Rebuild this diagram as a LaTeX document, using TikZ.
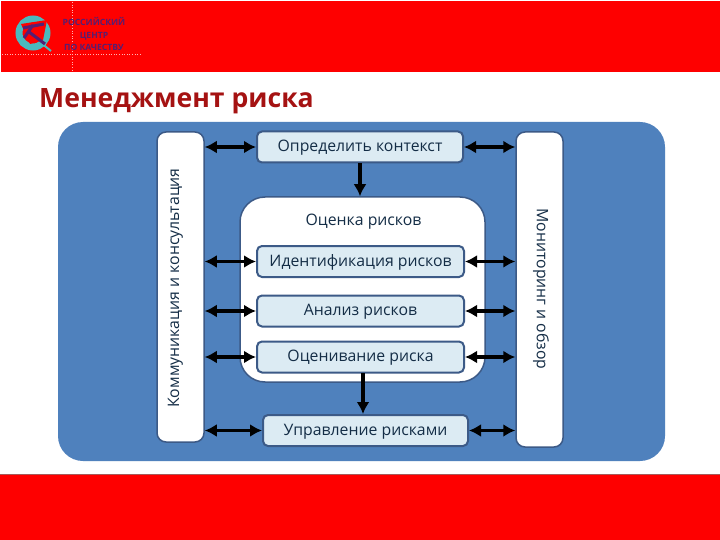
\documentclass[tikz,border=0pt]{standalone}
\usepackage{fontspec}
\setmainfont{Open Sans}
\usetikzlibrary{arrows.meta}
\definecolor{bandred}{RGB}{254,0,0}
\definecolor{panelblue}{RGB}{79,129,189}
\definecolor{boxblue}{RGB}{220,235,243}
\definecolor{boxedge}{RGB}{60,90,135}
\definecolor{titlered}{RGB}{165,18,18}
\definecolor{logoteal}{RGB}{75,185,190}
\definecolor{logotext}{RGB}{85,30,115}
\definecolor{textnavy}{RGB}{20,45,70}
\tikzset{
  stepbox/.style={draw=boxedge, line width=2pt, fill=boxblue, rounded corners=5pt, inner sep=0pt,
    minimum height=31pt, text=textnavy, text height=9pt, text depth=0pt, font=\fontsize{15.8}{18}\selectfont},
  sidebar/.style={draw=boxedge, line width=1.5pt, fill=white, rounded corners=9pt, inner sep=0pt,
    minimum width=47pt},
  sidetext/.style={text=textnavy, inner sep=0pt, font=\fontsize{15.8}{18}\selectfont},
  biarrow/.style={{Latex[length=12pt,width=13pt]}-{Latex[length=12pt,width=13pt]}, line width=3.4pt},
  downarrow/.style={-{Latex[length=12pt,width=13pt]}, line width=3.4pt},
}
\begin{document}
\begin{tikzpicture}[x=1pt, y=-1pt]
    \useasboundingbox (0, 0) rectangle (720, 540);
    % bands
    \fill[white] (0, 0) rectangle (720, 540);
    \fill[bandred] (1, 1) rectangle (720, 72);
    \fill[white] (0, 0) rectangle (143, 1);
    \fill[bandred] (0, 475) rectangle (720, 540);
    \draw[gray!70!red, line width=1pt] (0, 474) -- (720, 474);
    \draw[white!70!red, dotted, line width=0.6pt] (2, 54) -- (140, 54);
    \draw[white!70!red, dotted, line width=0.6pt] (72, 2) -- (72, 72);
    % logo
    \draw[logoteal, line width=7pt] (33, 33) circle (14);
    \draw[logoteal, line width=2pt] (40, 42) -- (51, 51);
    \fill[bandred] (21, 24) -- (47, 20) -- (43, 40) -- (30, 44) -- cycle;
    \draw[logotext, line width=3pt] (23, 28) -- (44, 24);
    \draw[logotext, line width=3pt] (24, 38) -- (33, 25);
    \draw[logotext, line width=3pt] (29, 32) -- (45, 44);
    \node[text=logotext, align=center, inner sep=0pt, font=\bfseries\fontsize{8.6}{12.5}\selectfont] (logotxt) at (94, 34) {РОССИЙСКИЙ\\ЦЕНТР\\ПО КАЧЕСТВУ};
    % title
    \node[anchor=west, inner sep=0pt, text=titlered, font=\bfseries\fontsize{26.6}{30}\selectfont] (title) at (39, 101) {Менеджмент риска};
    % panel
    \fill[panelblue, rounded corners=25pt] (58, 122) rectangle (665, 461);
    \node[draw=boxedge, line width=1.5pt, fill=white, rounded corners=25pt, minimum width=245pt, minimum height=185pt, inner sep=0pt] (assess) at (362.5, 289.5) {};
    \node[sidetext] (assesstxt) at (363.5, 222) {Оценка рисков};
    % side bars
    \node[sidebar, minimum height=310pt] (consult) at (180.5, 287) {};
    \node[sidetext, rotate=90] (consulttxt) at (175.5, 288) {Коммуникация и консультация};
    \node[sidebar, minimum height=315pt] (monitor) at (539.5, 289.5) {};
    \node[sidetext, rotate=-90] (monitortxt) at (541, 289) {Мониторинг и обзор};
    % steps
    \node[stepbox, minimum width=206pt] (context) at (360, 147) {Определить контекст};
    \node[stepbox, minimum width=207pt] (identify) at (360.5, 261.5) {Идентификация рисков};
    \node[stepbox, minimum width=207pt] (analyse) at (360.5, 311) {Анализ рисков};
    \node[stepbox, minimum width=207pt] (evaluate) at (360.5, 357) {Оценивание риска};
    \node[stepbox, minimum width=205pt] (treat) at (365.5, 430.5) {Управление рисками};
    % arrows
    \foreach \stepname in {context, identify, analyse, evaluate, treat} {
      \draw[biarrow] (consult.east |- \stepname.west) -- (\stepname.west);
      \draw[biarrow] (\stepname.east) -- (monitor.west |- \stepname.east);
    }
    \coordinate (evaldrop) at (363, 373);
    \draw[downarrow] (context.south) -- (assess.north -| context.south);
    \draw[downarrow] (evaldrop) -- (treat.north -| evaldrop);
\end{tikzpicture}
\end{document}
